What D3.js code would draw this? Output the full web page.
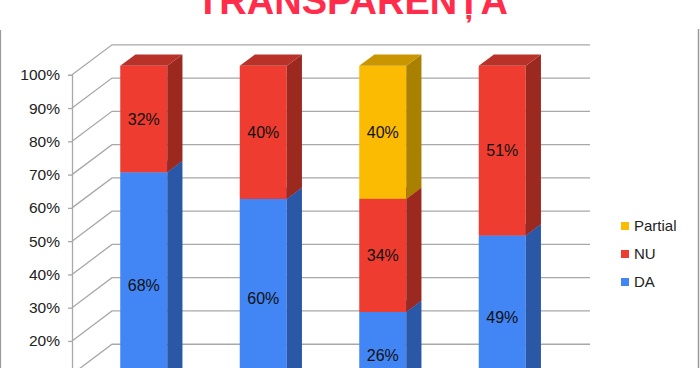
<!DOCTYPE html>
<html><head><meta charset="utf-8">
<script src="https://cdn.jsdelivr.net/npm/d3@7"></script>
<style>body{margin:0;background:#fff}svg{display:block}</style>
</head><body>
<script>
const title = "TRANSPARENȚA";
const categories = ["C1", "C2", "C3", "C4"];
const seriesNames = ["DA", "NU", "Partial"];
const daValues = [68, 60, 26, 49];
const nuValues = [32, 40, 34, 51];
const partialValues = [0, 0, 40, 0];
const tickValues = [0, 10, 20, 30, 40, 50, 60, 70, 80, 90, 100];
const tickLabels = ["0%", "10%", "20%", "30%", "40%", "50%", "60%", "70%", "80%", "90%", "100%"];

const colors = {
  DA: {front: "#4285f4", side: "#2a57a6", top: "#3466c4"},
  NU: {front: "#ee3d30", side: "#9b2920", top: "#b8322a"},
  Partial: {front: "#fbbb03", side: "#aa8000", top: "#c99500"}
};

const W = 700, H = 368;
const svg = d3.select("body").append("svg").attr("width", W).attr("height", H);

const DX = 40, DY = 30;        // full depth offset
const zF = 0.3, zB = 0.68;    // bar front/back depth fractions
const y = d3.scaleLinear().domain([0, 100]).range([407.5, 74.8]);
const x = d3.scaleBand().domain(categories).range([72, 550]);
const barW = 47;

// frame
svg.append("line").attr("x1", 0.5).attr("x2", 0.5).attr("y1", 30).attr("y2", H).attr("stroke", "#9a9a9a").attr("stroke-width", 1.2);
svg.append("line").attr("x1", 698.5).attr("x2", 698.5).attr("y1", 29).attr("y2", H).attr("stroke", "#9a9a9a").attr("stroke-width", 1.5);

// title
svg.append("text").attr("x", 352).attr("y", 14).attr("text-anchor", "middle")
  .attr("font-family", "Liberation Sans, Arial, sans-serif").attr("font-weight", "bold")
  .attr("font-size", 38).attr("fill", "#ff2d4b").text(title);

// gridlines (side wall + back wall)
const grid = svg.append("g").attr("stroke", "#a8a8a8").attr("stroke-width", 1.3).attr("fill", "none");
tickValues.forEach(v => {
  grid.append("path").attr("d", `M${x.range()[0]},${y(v)} L${x.range()[0] + DX},${y(v) - DY} L${x.range()[1] + DX},${y(v) - DY}`);
});

// axis
const axis = d3.axisLeft(y).tickValues(tickValues).tickSize(4).tickPadding(8)
  .tickFormat((d, i) => tickLabels[i]);
const ag = svg.append("g").attr("transform", `translate(${x.range()[0]},0)`).call(axis);
ag.select(".domain").attr("stroke", "#a8a8a8").attr("stroke-width", 1.3);
ag.selectAll(".tick line").attr("stroke", "#a8a8a8").attr("stroke-width", 1.3);
ag.selectAll("text").attr("font-family", "Liberation Sans, Arial, sans-serif").attr("font-size", 15.5).attr("fill", "#222");

// bars
const series = [daValues, nuValues, partialValues];
const bars = svg.append("g");
categories.forEach((c, i) => {
  let cum = 0;
  const cx = x(c) + x.bandwidth() / 2 + zF * DX;
  const x0 = cx - barW / 2, x1 = cx + barW / 2;
  const ox = (zB - zF) * DX, oy = (zB - zF) * DY;
  series.forEach((vals, s) => {
    const v = vals[i];
    if (!v) return;
    const col = colors[seriesNames[s]];
    const yb = y(cum) - zF * DY, yt = y(cum + v) - zF * DY;
    bars.append("rect").attr("x", x0).attr("y", yt).attr("width", barW).attr("height", yb - yt).attr("fill", col.front);
    bars.append("path").attr("d", `M${x1},${yb} L${x1 + ox},${yb - oy} L${x1 + ox},${yt - oy} L${x1},${yt} Z`).attr("fill", col.side);
    bars.append("path").attr("d", `M${x0},${yt} L${x0 + ox},${yt - oy} L${x1 + ox},${yt - oy} L${x1},${yt} Z`).attr("fill", col.top);
    bars.append("text").attr("x", cx).attr("y", (yb + yt) / 2).attr("dy", "0.36em")
      .attr("text-anchor", "middle").attr("font-family", "Liberation Sans, Arial, sans-serif")
      .attr("font-size", 16).attr("fill", "#111").text(v + "%");
    cum += v;
  });
});

// legend
const legendOrder = ["Partial", "NU", "DA"];
const ly = d3.scalePoint().domain(legendOrder).range([226, 282]);
const lg = svg.append("g");
legendOrder.forEach(n => {
  lg.append("rect").attr("x", 621).attr("y", ly(n) - 4).attr("width", 8).attr("height", 8).attr("fill", colors[n].front);
  lg.append("text").attr("x", 634).attr("y", ly(n)).attr("dy", "0.36em")
    .attr("font-family", "Liberation Sans, Arial, sans-serif").attr("font-size", 15).attr("fill", "#222").text(n);
});
</script>
</body></html>
